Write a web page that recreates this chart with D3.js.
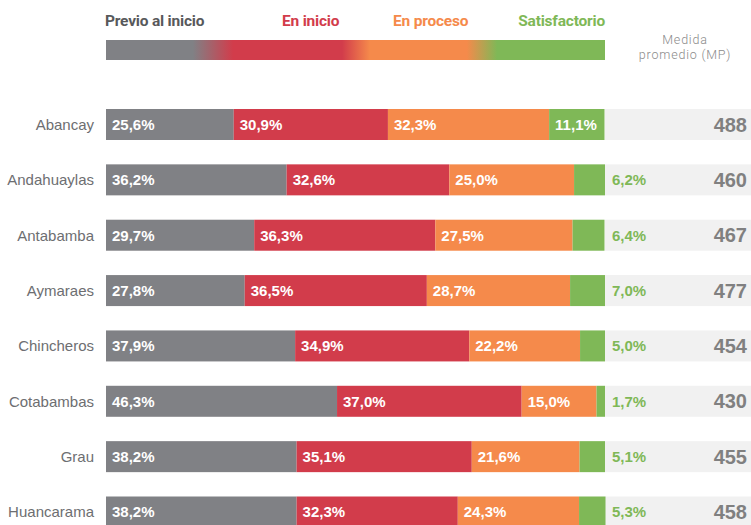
<!DOCTYPE html>
<html>
<head>
<meta charset="utf-8">
<script src="https://cdn.jsdelivr.net/npm/d3@7"></script>
<style>
  body { margin: 0; background: #fff; }
  svg { display: block; }
</style>
</head>
<body>
<div id="chart"></div>
<script>
const provinces = ["Abancay", "Andahuaylas", "Antabamba", "Aymaraes", "Chincheros", "Cotabambas", "Grau", "Huancarama"];
const levels = ["Previo al inicio", "En inicio", "En proceso", "Satisfactorio"];
const previo = [25.6, 36.2, 29.7, 27.8, 37.9, 46.3, 38.2, 38.2];
const inicio = [30.9, 32.6, 36.3, 36.5, 34.9, 37.0, 35.1, 32.3];
const proceso = [32.3, 25.0, 27.5, 28.7, 22.2, 15.0, 21.6, 24.3];
const satisf = [11.1, 6.2, 6.4, 7.0, 5.0, 1.7, 5.1, 5.3];
const medida = [488, 460, 467, 477, 454, 430, 455, 458];

const svgWidth = 751;
const svgHeight = 525;
const colors = ["#808185", "#d23c4b", "#f58a4b", "#7fb857"];

const svg = d3.select("#chart")
    .append("svg")
    .attr("width", svgWidth)
    .attr("height", svgHeight);

const x = d3.scaleLinear()
    .domain([0, 100])
    .range([106, 605]);

const y = d3.scaleBand()
    .domain(provinces)
    .range([109, 527.5])
    .paddingInner(0.44)
    .paddingOuter(0);

const rows = provinces.map((name, i) => {
    const vals = [previo[i], inicio[i], proceso[i], satisf[i]];
    let acc = 0;
    const segs = vals.map((v, k) => {
        const s = { name, k, v, x0: acc, x1: acc + v };
        acc += v;
        return s;
    });
    return { name, segs, mp: medida[i] };
});

// Legend
const defs = svg.append("defs");
const grad = defs.append("linearGradient").attr("id", "legendGrad");
[
    [0, colors[0]], [0.174, colors[0]], [0.255, colors[1]], [0.473, colors[1]],
    [0.529, colors[2]], [0.723, colors[2]], [0.784, colors[3]], [1, colors[3]]
].forEach(([o, c]) => grad.append("stop").attr("offset", o).attr("stop-color", c));

svg.append("rect")
    .attr("x", x(0))
    .attr("y", 40)
    .attr("width", x(100) - x(0))
    .attr("height", 20)
    .attr("fill", "url(#legendGrad)");

const legendX = [105, 282, 393, 605];
svg.selectAll(".legend")
    .data(levels)
    .join("text")
    .attr("class", "legend")
    .attr("x", (d, i) => legendX[i])
    .attr("y", 26)
    .attr("text-anchor", (d, i) => i === 3 ? "end" : "start")
    .attr("font-family", "Roboto, 'Liberation Sans', sans-serif")
    .attr("font-weight", "bold")
    .attr("font-size", 15.5)
    .attr("letter-spacing", -0.2)
    .attr("fill", (d, i) => i === 0 ? "#58595b" : colors[i])
    .text(d => d);

// Header for right column
const head = svg.append("text")
    .attr("text-anchor", "middle")
    .attr("font-family", "Roboto, 'Liberation Sans', sans-serif")
    .attr("font-weight", 300)
    .attr("font-size", 12.5)
    .attr("letter-spacing", 0.8)
    .attr("fill", "#8a8a8a");
head.append("tspan").attr("x", 685).attr("y", 44).text("Medida");
head.append("tspan").attr("x", 685).attr("y", 59).text("promedio (MP)");

// Rows
const row = svg.selectAll(".row")
    .data(rows)
    .join("g")
    .attr("class", "row");

// gray panel behind MP
row.append("rect")
    .attr("x", x(100))
    .attr("y", d => y(d.name))
    .attr("width", svgWidth - x(100))
    .attr("height", y.bandwidth())
    .attr("fill", "#f1f1f1");

row.selectAll(".seg")
    .data(d => d.segs)
    .join("rect")
    .attr("class", "seg")
    .attr("x", d => x(d.x0))
    .attr("y", d => y(d.name))
    .attr("width", d => x(d.x1) - x(d.x0))
    .attr("height", y.bandwidth())
    .attr("fill", d => colors[d.k]);

const fmt = v => v.toFixed(1).replace(".", ",") + "%";

row.selectAll(".pct")
    .data(d => d.segs)
    .join("text")
    .attr("class", "pct")
    .attr("x", d => (d.k === 3 && d.v < 10) ? x(100) + 7 : x(d.x0) + 6)
    .attr("y", d => y(d.name) + y.bandwidth() / 2)
    .attr("dy", "0.36em")
    .attr("font-family", "'Liberation Sans', Arial, sans-serif")
    .attr("font-weight", "bold")
    .attr("font-size", 15)
    .attr("fill", d => (d.k === 3 && d.v < 10) ? colors[3] : "#fff")
    .text(d => fmt(d.v));

row.append("text")
    .attr("x", 94)
    .attr("y", d => y(d.name) + y.bandwidth() / 2)
    .attr("dy", "0.36em")
    .attr("text-anchor", "end")
    .attr("font-family", "'Liberation Sans', Arial, sans-serif")
    .attr("font-size", 15)
    .attr("fill", "#6d6e71")
    .text(d => d.name);

row.append("text")
    .attr("x", 747)
    .attr("y", d => y(d.name) + y.bandwidth() / 2)
    .attr("dy", "0.36em")
    .attr("text-anchor", "end")
    .attr("font-family", "'Liberation Sans', Arial, sans-serif")
    .attr("font-weight", "bold")
    .attr("font-size", 20)
    .attr("fill", "#808080")
    .text(d => d.mp);
</script>
</body>
</html>
